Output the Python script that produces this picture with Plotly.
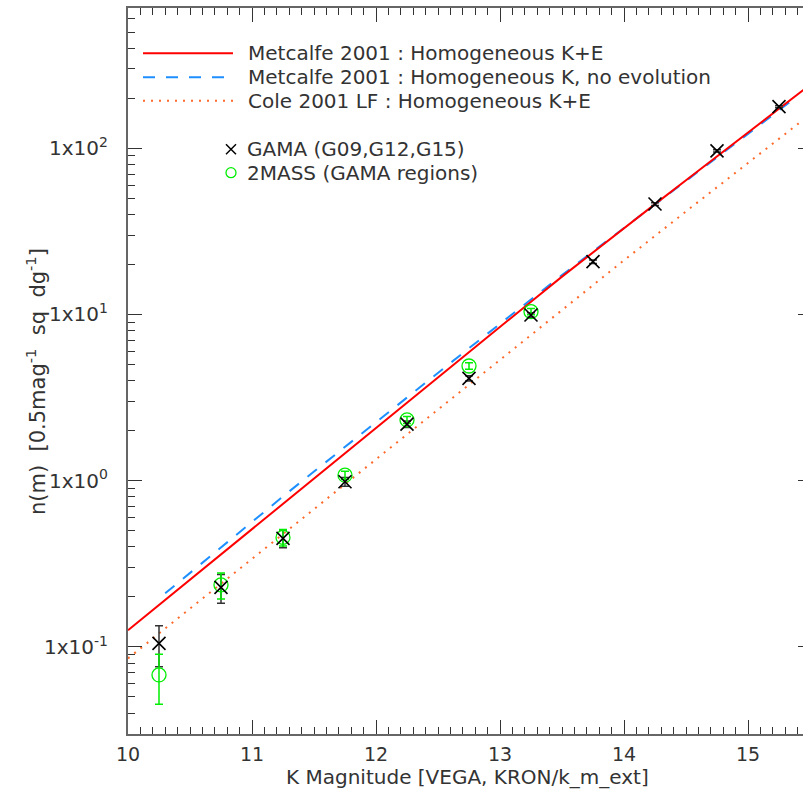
import plotly.graph_objects as go

# ---------------- data ----------------
# Model curves (K magnitude, n(m))
mag_metcalfe_ke = [10.0, 10.25, 10.5, 10.75, 11.0, 11.25, 11.5, 11.75, 12.0, 12.25, 12.5, 12.75,
                   13.0, 13.25, 13.5, 13.75, 14.0, 14.25, 14.5, 14.75, 15.0, 15.25, 15.5]
n_metcalfe_ke = [0.126, 0.179, 0.254, 0.360, 0.511, 0.724, 1.028, 1.459, 2.075, 2.944, 4.178, 5.929,
                 8.414, 11.94, 16.90, 23.71, 33.11, 46.13, 64.27, 89.54, 124.5, 173.0, 240.4]

mag_metcalfe_k = [10.3, 10.5, 10.75, 11.0, 11.25, 11.5, 11.75, 12.0, 12.25, 12.5, 12.75, 13.0,
                  13.25, 13.5, 13.75, 14.0, 14.25, 14.5, 14.75, 15.0, 15.25, 15.35]
n_metcalfe_k = [0.210, 0.279, 0.398, 0.566, 0.804, 1.135, 1.600, 2.259, 3.177, 4.467, 6.266, 8.790,
                12.33, 17.26, 23.93, 33.19, 45.92, 63.68, 88.31, 122.2, 169.4, 192.8]

mag_cole = [10.0, 10.5, 11.0, 11.5, 12.0, 12.5, 13.0, 13.5, 14.0, 14.5, 15.0, 15.5]
n_cole = [0.0853, 0.170, 0.339, 0.673, 1.340, 2.679, 5.370, 10.72, 21.18, 41.69, 81.66, 159.6]

# GAMA counts
mag_gama = [10.25, 10.75, 11.25, 11.75, 12.25, 12.75, 13.25, 13.75, 14.25, 14.75, 15.25]
n_gama = [0.105, 0.228, 0.450, 0.986, 2.19, 4.13, 9.93, 20.8, 46.2, 96.4, 178.0]
err_gama = [0.029, 0.045, 0.055, 0.06, 0.10, 0.15, 0.30, 0.5, 0.9, 1.5, 2.5]

# 2MASS counts in GAMA regions
mag_2mass = [10.25, 10.75, 11.25, 11.75, 12.25, 12.75, 13.25]
n_2mass = [0.0678, 0.236, 0.456, 1.08, 2.32, 4.90, 10.4]
err_2mass = [0.0226, 0.042, 0.052, 0.06, 0.11, 0.22, 0.45]

# axis ticks
x_major_vals = [10, 11, 12, 13, 14, 15]
x_major_text = ["10", "11", "12", "13", "14", "15"]
y_major_vals = [0.1, 1, 10, 100]
y_major_text = ["1x10<sup>-1</sup>", "1x10<sup>0</sup>", "1x10<sup>1</sup>", "1x10<sup>2</sup>"]
y_minor_vals = [0.03, 0.04, 0.05, 0.06, 0.07, 0.08, 0.09,
                0.2, 0.3, 0.4, 0.5, 0.6, 0.7, 0.8, 0.9,
                2, 3, 4, 5, 6, 7, 8, 9,
                20, 30, 40, 50, 60, 70, 80, 90,
                200, 300, 400, 500, 600, 700]

legend_lines = ["Metcalfe 2001 : Homogeneous K+E",
                "Metcalfe 2001 : Homogeneous K, no evolution",
                "Cole 2001 LF : Homogeneous K+E"]
legend_points = ["GAMA (G09,G12,G15)", "2MASS (GAMA regions)"]

# ---------------- layout constants ----------------
W, H = 803, 798
ML, MR, MT, MB = 128, 0, 8, 64
PW, PH = W - ML - MR, H - MT - MB
FONT = "DejaVu Sans"
TXT = "#333333"
RED, BLUE, ORANGE, GREEN = "#ff0000", "#1e8fff", "#ff6a2a", "#00ee00"


def px(x):
    return (x - ML) / PW


def py(y):
    return (MT + PH - y) / PH


fig = go.Figure()

fig.add_trace(go.Scatter(x=mag_metcalfe_k, y=n_metcalfe_k, mode="lines",
                         line=dict(color=BLUE, width=2, dash="12px,11px"), showlegend=False))
fig.add_trace(go.Scatter(x=mag_cole, y=n_cole, mode="lines",
                         line=dict(color=ORANGE, width=2, dash="2px,6px"), showlegend=False))
fig.add_trace(go.Scatter(x=mag_metcalfe_ke, y=n_metcalfe_ke, mode="lines",
                         line=dict(color=RED, width=2), showlegend=False))

# GAMA error bars (beneath)
fig.add_trace(go.Scatter(x=mag_gama, y=n_gama, mode="markers",
                         marker=dict(size=1, color="rgba(0,0,0,0)"),
                         error_y=dict(type="data", array=err_gama, color="#333333",
                                      thickness=1.5, width=4),
                         showlegend=False))
# 2MASS
fig.add_trace(go.Scatter(x=mag_2mass, y=n_2mass, mode="markers",
                         marker=dict(symbol="circle-open", size=14,
                                     line=dict(color=GREEN, width=1.3), color=GREEN),
                         error_y=dict(type="data", array=err_2mass, color=GREEN,
                                      thickness=1.5, width=4),
                         showlegend=False))
# GAMA markers on top
fig.add_trace(go.Scatter(x=mag_gama, y=n_gama, mode="markers",
                         marker=dict(symbol="x-thin-open", size=13,
                                     line=dict(color="#000000", width=1.6), color="#000000"),
                         showlegend=False))

# Right-hand axis stubs (right frame is just off the picture)
fig.add_trace(go.Scatter(x=[mag_gama[0]], y=[n_gama[0]], yaxis="y2", mode="markers",
                         marker=dict(size=1, color="rgba(0,0,0,0)"), showlegend=False,
                         hoverinfo="skip"))

shapes = []
annotations = []
# legend for model lines
legend_y = [53.3, 77.3, 100.7]
legend_style = [dict(color=RED, width=2), dict(color=BLUE, width=2, dash="12px,11px"),
                dict(color=ORANGE, width=2, dash="2px,6px")]
for label, yy, st in zip(legend_lines, legend_y, legend_style):
    shapes.append(dict(type="line", xref="paper", yref="paper", x0=px(143), x1=px(233),
                       y0=py(yy), y1=py(yy), line=st))
    annotations.append(dict(xref="paper", yref="paper", x=px(246), y=py(yy), text=label,
                            showarrow=False, xanchor="left", yanchor="middle",
                            font=dict(family=FONT, size=20, color=TXT)))
# legend for points
xc, yx, yo, r = 231, 149.3, 172.7, 5
shapes.append(dict(type="line", xref="paper", yref="paper", x0=px(xc - r), x1=px(xc + r),
                   y0=py(yx - r), y1=py(yx + r), line=dict(color="#000", width=1.5)))
shapes.append(dict(type="line", xref="paper", yref="paper", x0=px(xc - r), x1=px(xc + r),
                   y0=py(yx + r), y1=py(yx - r), line=dict(color="#000", width=1.5)))
shapes.append(dict(type="circle", xref="paper", yref="paper", x0=px(xc - r), x1=px(xc + r),
                   y0=py(yo - r), y1=py(yo + r), line=dict(color=GREEN, width=1.3)))
for label, yy in zip(legend_points, [yx, yo]):
    annotations.append(dict(xref="paper", yref="paper", x=px(245), y=py(yy), text=label,
                            showarrow=False, xanchor="left", yanchor="middle",
                            font=dict(family=FONT, size=20, color=TXT)))

# axis titles
annotations.append(dict(xref="paper", yref="paper", x=px(467), y=py(777),
                        text="K Magnitude [VEGA, KRON/k_m_ext]", showarrow=False,
                        xanchor="center", yanchor="middle",
                        font=dict(family=FONT, size=20, color=TXT)))
annotations.append(dict(xref="paper", yref="paper", x=px(36), y=py(382),
                        text="n(m)&nbsp;&nbsp;[0.5mag<sup>-1</sup>&nbsp;&nbsp;sq&nbsp;&nbsp;dg<sup>-1</sup>]",
                        showarrow=False, textangle=-90, xanchor="center", yanchor="middle",
                        font=dict(family=FONT, size=21, color=TXT)))

fig.update_layout(
    width=W, height=H,
    margin=dict(l=ML, r=MR, t=MT, b=MB, pad=0),
    paper_bgcolor="white", plot_bgcolor="white",
    font=dict(family=FONT, size=20, color=TXT),
    showlegend=False,
    shapes=shapes, annotations=annotations,
    xaxis=dict(range=[10, 10 + PW / 124.0], showgrid=False, zeroline=False,
               showline=True, linecolor="#666666", linewidth=2, mirror="ticks",
               ticks="inside", ticklen=14, tickwidth=1, tickcolor="#333333",
               tickmode="array", tickvals=x_major_vals, ticktext=x_major_text,
               tickfont=dict(family=FONT, size=19, color=TXT), ticklabelstandoff=2,
               minor=dict(ticks="inside", ticklen=7, dtick=0.1, tick0=10,
                          tickcolor="#333333", tickwidth=1, showgrid=False)),
    yaxis=dict(type="log", range=[-1.524, 2.844], showgrid=False, zeroline=False,
               showline=True, linecolor="#666666", linewidth=2, mirror=False,
               ticks="inside", ticklen=14, tickwidth=1, tickcolor="#333333",
               tickmode="array", tickvals=y_major_vals, ticktext=y_major_text,
               tickfont=dict(family=FONT, size=20, color=TXT), ticklabelstandoff=14,
               minor=dict(ticks="inside", ticklen=7, tickmode="array", tickvals=y_minor_vals,
                          tickcolor="#333333", tickwidth=1, showgrid=False)),
    yaxis2=dict(type="log", range=[-1.524, 2.844], overlaying="y", side="right",
                showgrid=False, zeroline=False, showline=False, showticklabels=False,
                ticks="inside", ticklen=5, tickwidth=1, tickcolor="#333333",
                tickmode="array", tickvals=y_major_vals),
)

fig.write_html("out.html", config={"displayModeBar": False},
               post_script="document.body.style.margin='0';document.body.style.overflow='hidden';")
